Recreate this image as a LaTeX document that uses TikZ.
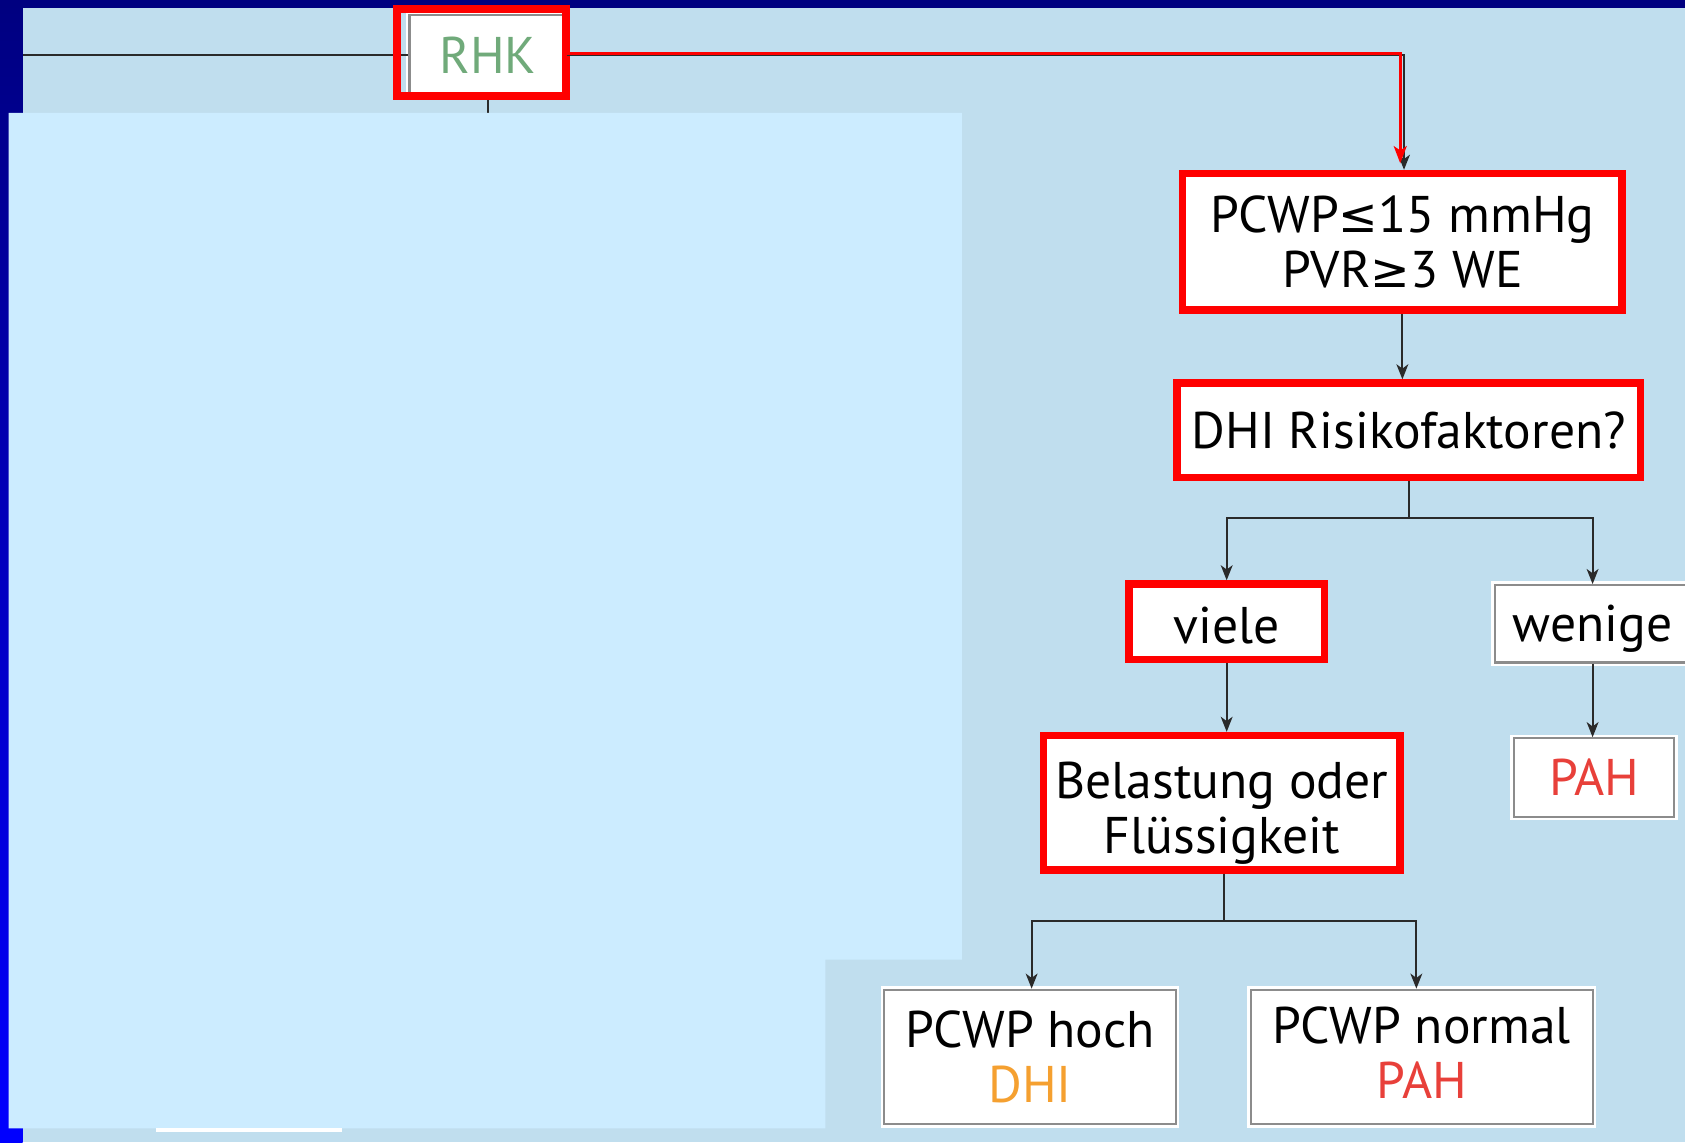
\documentclass[tikz,border=0pt]{standalone}
\usepackage{fontspec}
\setmainfont{PT Sans}
\newfontfamily\symf{DejaVu Sans}
\usetikzlibrary{arrows.meta}
\definecolor{bgblue}{RGB}{192,222,238}
\definecolor{ovblue}{RGB}{204,236,255}
\definecolor{navyc}{RGB}{0,0,128}
\definecolor{pureblue}{RGB}{0,0,255}
\definecolor{hlred}{RGB}{255,0,0}
\definecolor{txtred}{RGB}{232,64,58}
\definecolor{txtgreen}{RGB}{112,170,122}
\definecolor{txtorange}{RGB}{245,160,48}
\definecolor{linegray}{RGB}{42,42,42}
\definecolor{boxgray}{RGB}{140,140,140}
\begin{document}
\begin{tikzpicture}[x=1pt,y=-1pt,
  every node/.style={font=\fontsize{48}{51}\selectfont, inner sep=0pt, align=center},
  redbox/.style={draw=hlred, line width=7pt, fill=white},
  graybox/.style={draw=boxgray, line width=2pt, fill=white, preaction={draw=white, line width=7pt}},
  conn/.style={draw=linegray, line width=2pt},
  arr/.style={conn, -{Stealth[length=14pt,width=11pt,inset=4pt]}},
  redarr/.style={draw=hlred, line width=2.5pt, -{Stealth[length=16pt,width=12pt,inset=4pt]}}
]
\useasboundingbox (0,0) rectangle (1568,1063);
\clip (0,0) rectangle (1568,1063);
% background
\fill[bgblue] (0,0) rectangle (1568,1063);
\shade[top color=navyc, bottom color=pureblue] (0,0) rectangle (21,1063);
\fill[navyc] (0,0) rectangle (1568,7.5);

% nodes
\node[graybox, minimum width=146, minimum height=74] (RHK) at (454,51) {\textcolor{txtgreen}{RHK}};
\node[redbox, minimum width=409, minimum height=127] (PC) at (1305,225) {PCWP{\symf\fontsize{44}{51}\selectfont≤}15 mmHg\\PVR{\symf\fontsize{44}{51}\selectfont≥}3 WE};
\node[redbox, minimum width=431, minimum height=88] (DHI) at (1311,400.5) {DHI Risikofaktoren?};
\node[redbox, minimum width=182, minimum height=70] (viele) at (1141.5,578.5) {\rule{0pt}{42pt}viele};
\node[graybox, minimum width=182, minimum height=72] (wenige) at (1482,580.5) {\rule{0pt}{44pt}wenige};
\node[redbox, minimum width=332, minimum height=125] (Bel) at (1137,747) {\rule{0pt}{54pt}Belastung oder\\Flüssigkeit};
\node[graybox, minimum width=149, minimum height=73] (PAHa) at (1483.5,723.5) {\textcolor{txtred}{PAH}};
\node[graybox, minimum width=271, minimum height=125] (hoch) at (958.5,983.5) {PCWP hoch\\\textcolor{txtorange}{DHI}};
\node[graybox, minimum width=318, minimum height=125] (normal) at (1323,983.5) {PCWP normal\\\textcolor{txtred}{PAH}\rule[-8pt]{0pt}{0pt}};

% connectors
\coordinate (leftend) at (21,51);
\coordinate (rhkdown) at (454,200);
\coordinate (split1) at (1311,482);
\coordinate (split2) at (1139,857);
\draw[conn] (leftend) -- (RHK.west);
\draw[conn] (RHK.south) -- (rhkdown);
\draw[hlred, line width=7pt] (369.5,8.5) rectangle (526.5,89.5);
\draw[arr] (RHK.east) -| ([xshift=1.5pt]PC.north);
\draw[redarr] ([yshift=1.5pt]RHK.east) -| ([xshift=-2pt,yshift=6pt]PC.north);
\draw[arr] (PC.south) -- (PC.south |- DHI.north);
\draw[conn] (DHI.south) -- (split1);
\draw[arr] (split1) -| (viele.north);
\draw[arr] (split1) -| (wenige.north);
\draw[arr] (viele.south) -- (viele.south |- Bel.north);
\draw[arr] (wenige.south) -- (wenige.south |- PAHa.north);
\draw[conn] (Bel.south -| split2) -- (split2);
\draw[arr] (split2) -| ([xshift=1.5pt]hoch.north);
\draw[arr] (split2) -| ([xshift=-5pt]normal.north);

% overlay
\fill[ovblue] (8,105) -- (895,105) -- (895,893) -- (768,893) -- (768,1050) -- (8,1050) -- cycle;
\fill[white] (145,1050) rectangle (318,1053);
\end{tikzpicture}
\end{document}
